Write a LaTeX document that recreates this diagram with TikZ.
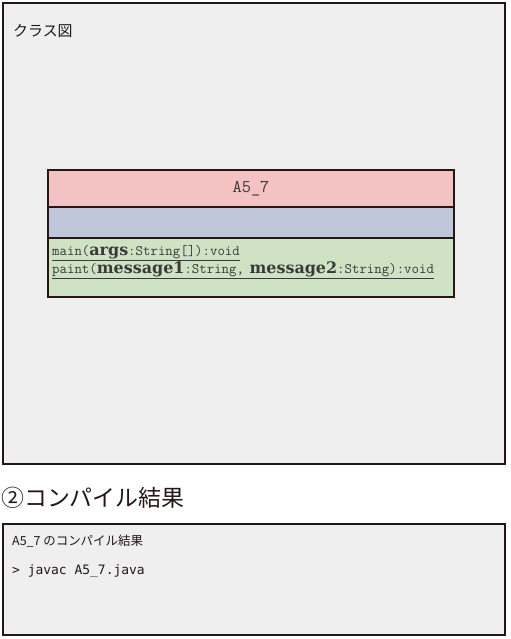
\documentclass[tikz,border=0pt]{standalone}
\usepackage{fontspec}
\setmainfont{Liberation Serif}
\newfontfamily\jpfont{Noto Sans CJK JP}
\newfontfamily\argfont{DejaVu Serif}
\newfontfamily\termfont{DejaVu Sans Mono}
\usepackage{tikz}
\usetikzlibrary{positioning}
\definecolor{panelgray}{HTML}{EFEFEF}
\definecolor{edge}{HTML}{231815}
\definecolor{namepink}{HTML}{F4C2C2}
\definecolor{attrblue}{HTML}{C0C6D9}
\definecolor{methgreen}{HTML}{CFE3C4}
\definecolor{ink}{HTML}{3A3A3A}
\newcommand{\argname}[1]{{\argfont\bfseries\fontsize{16}{16}\selectfont #1}}
\tikzset{
  panel/.style = {draw=edge, fill=panelgray, line width=1.5bp, inner sep=0pt,
    outer sep=0pt, anchor=north west},
  compart/.style = {draw=edge, line width=2bp, minimum width=406bp, inner sep=0pt,
    outer sep=0pt},% class box part
  heading/.style = {inner sep=0pt, anchor=west, text=edge},
  optext/.style = {inner sep=0pt, anchor=base west, text=ink,
    font=\ttfamily\fontsize{14.5}{14.5}\selectfont},
}
\begin{document}
\begin{tikzpicture}[x=1bp, y=-1bp]
\useasboundingbox (0,0) rectangle (511,639);
% class diagram panel
\node [panel, minimum width=502bp, minimum height=461bp] (diag) at (3,3) {};
\node [heading, font=\jpfont\fontsize{15}{15}\selectfont] (diagtitle) at (13,31) {クラス図};
\node [compart, fill=namepink, minimum height=37bp, anchor=north west] (cname) at (48,170)
  {\textcolor{ink}{\ttfamily\fontsize{18}{18}\selectfont A5\_7}};
\node [compart, fill=attrblue, minimum height=31bp, below=0pt of cname] (cattr) {};
\node [compart, fill=methgreen, minimum height=59bp, below=0pt of cattr] (cmeth) {};
\node [optext] (opmain) at (52,255)
  {\underline{main(\argname{args}:String[]):void}};
\node [optext] (oppaint) at ([shift={(0,18)}]opmain.base west)
  {\underline{paint(\argname{message1}:String,\argname{ message2}:String):void}};
% compile result
\node [heading, font=\jpfont\fontsize{23}{23}\selectfont] (restitle) at (1,498) {②コンパイル結果};
\node [panel, minimum width=502bp, minimum height=111bp] (result) at (3,524) {};
\node [heading, font=\jpfont\fontsize{12.5}{12.5}\selectfont] (reshead) at (12,541) {A5\_7 のコンパイル結果};
\node [heading, font=\termfont\fontsize{13}{13}\selectfont] (rescmd) at (12,571) {> javac A5\_7.java};
\end{tikzpicture}
\end{document}
